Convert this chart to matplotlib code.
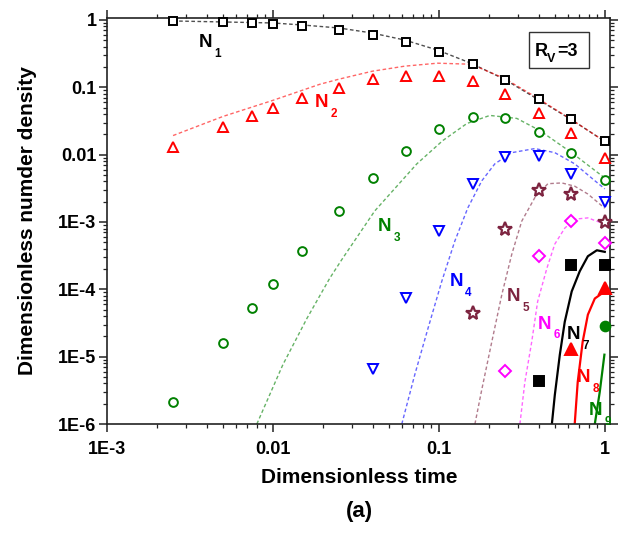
import matplotlib
matplotlib.use("Agg")
import matplotlib.pyplot as plt
from matplotlib.ticker import FixedLocator, FixedFormatter, LogLocator, NullFormatter
from matplotlib.patches import Rectangle

plt.rcParams['font.family'] = ['Liberation Sans', 'DejaVu Sans']
plt.rcParams['font.weight'] = 'bold'

# ---- simulation points (open / filled symbols) ----
t_sim = [0.0025, 0.005, 0.0075, 0.01, 0.015, 0.025, 0.04, 0.063, 0.1, 0.16, 0.25, 0.4, 0.63, 1.0]
n1_sim = [0.966, 0.93, 0.90, 0.87, 0.81, 0.71, 0.60, 0.47, 0.33, 0.22, 0.13, 0.068, 0.034, 0.0157]
n2_sim = [0.0132, 0.0253, 0.037, 0.0486, 0.0686, 0.097, 0.132, 0.146, 0.146, 0.123, 0.0787, 0.042, 0.0206, 0.009]
n3_sim = [2.1e-6, 1.62e-5, 5.2e-5, 1.19e-4, 3.7e-4, 1.46e-3, 4.5e-3, 0.0115, 0.0244, 0.0357, 0.0345, 0.022, 0.0104, 0.0042]

t4_sim = [0.04, 0.063, 0.1, 0.16, 0.25, 0.4, 0.63, 1.0]
n4_sim = [6.6e-6, 7.4e-5, 7.3e-4, 3.7e-3, 9.3e-3, 9.7e-3, 5.2e-3, 2.0e-3]
t5_sim = [0.16, 0.25, 0.4, 0.63, 1.0]
n5_sim = [4.4e-5, 7.9e-4, 3.0e-3, 2.6e-3, 1.0e-3]
t6_sim = [0.25, 0.4, 0.63, 1.0]
n6_sim = [6.2e-6, 3.1e-4, 1.03e-3, 4.9e-4]
t7_sim = [0.4, 0.63, 1.0]
n7_sim = [4.3e-6, 2.3e-4, 2.3e-4]
t8_sim = [0.63, 1.0]
n8_sim = [1.32e-5, 1.03e-4]
t9_sim = [1.0]
n9_sim = [2.9e-5]

# ---- model curves ----
t1_mod = [0.0025, 0.01, 0.015, 0.025, 0.0396, 0.0623, 0.0982, 0.156, 0.248, 0.388, 0.625, 1.0]
n1_mod = [0.966, 0.902, 0.842, 0.76, 0.64, 0.503, 0.357, 0.228, 0.132, 0.068, 0.0335, 0.0157]
t2_mod = [0.0025, 0.005, 0.01, 0.0192, 0.025, 0.0396, 0.0623, 0.0982, 0.156, 0.248, 0.388, 0.625, 1.0]
n2_mod = [0.0192, 0.0369, 0.064, 0.111, 0.132, 0.173, 0.206, 0.228, 0.22, 0.136, 0.0706, 0.0335, 0.0157]
t3_mod = [0.0080, 0.01148, 0.01603, 0.022, 0.0261, 0.0411, 0.0737, 0.1057, 0.1476, 0.203, 0.295, 0.406, 0.641, 1.0]
n3_mod = [1.0e-6, 7.6e-6, 3.7e-5, 1.46e-4, 2.8e-4, 1.46e-3, 7.3e-3, 0.0162, 0.029, 0.0382, 0.0345, 0.0228, 0.0104, 0.0045]
t4_mod = [0.0598, 0.0716, 0.0859, 0.1042, 0.1248, 0.1495, 0.1817, 0.2175, 0.275, 0.379, 0.5, 0.659, 0.871, 1.0]
n4_mod = [1.0e-6, 5.4e-6, 2.6e-5, 1.32e-4, 5.2e-4, 1.62e-3, 4.1e-3, 7.3e-3, 0.0107, 0.0123, 0.0107, 7.3e-3, 4.1e-3, 3.1e-3]
t5_mod = [0.165, 0.1817, 0.2086, 0.2398, 0.275, 0.316, 0.379, 0.454, 0.551, 0.659, 0.791, 1.0]
n5_mod = [1.0e-6, 3.3e-6, 1.67e-5, 8.4e-5, 3.3e-4, 1.03e-3, 2.3e-3, 3.7e-3, 3.8e-3, 3.4e-3, 2.6e-3, 1.6e-3]
t6_mod = [0.308, 0.330, 0.363, 0.394, 0.448, 0.5, 0.574, 0.659, 0.791, 1.0]
n6_mod = [1.0e-6, 4.2e-6, 1.67e-5, 6.6e-5, 2.06e-4, 4.7e-4, 8.1e-4, 1.1e-3, 1.15e-3, 9.3e-4]
t7_mod = [0.48, 0.5, 0.536, 0.574, 0.632, 0.707, 0.791, 0.896, 1.0]
n7_mod = [1.0e-6, 2.7e-6, 1.07e-5, 3.3e-5, 9.3e-5, 1.86e-4, 3.1e-4, 3.8e-4, 3.6e-4]
t8_mod = [0.659, 0.687, 0.736, 0.791, 0.871, 1.0]
n8_mod = [1.0e-6, 4.2e-6, 1.67e-5, 4.2e-5, 7.3e-5, 9.3e-5]
t9_mod = [0.871, 0.933, 0.995]
n9_mod = [1.0e-6, 3.0e-6, 1.07e-5]

x_ticks = [1e-3, 1e-2, 1e-1, 1.0]
x_ticklabels = ['1E-3', '0.01', '0.1', '1']
y_ticks = [1e-6, 1e-5, 1e-4, 1e-3, 1e-2, 1e-1, 1.0]
y_ticklabels = ['1E-6', '1E-5', '1E-4', '1E-3', '0.01', '0.1', '1']

C_BLACK = '#000000'
C_RED = '#ff0000'
C_GREEN = '#008000'
C_BLUE = '#0000ff'
C_WINE = '#7d2440'
C_MAGENTA = '#ff00ff'

fig = plt.figure(figsize=(6.28, 5.33), dpi=100)
ax = fig.add_axes([0.1704, 0.2045, 0.8009, 0.7623])
ax.set_xscale('log')
ax.set_yscale('log')
ax.set_xlim(1e-3, 1.075)
ax.set_ylim(1e-6, 1.08)

dash = (0, (2.6, 1.8))
ax.plot(t1_mod, n1_mod, color='#303030', lw=1.0, ls=dash, alpha=0.85, zorder=2)
ax.plot(t2_mod, n2_mod, color=C_RED, lw=1.0, ls=dash, alpha=0.6, zorder=2)
ax.plot(t3_mod, n3_mod, color=C_GREEN, lw=1.0, ls=dash, alpha=0.6, zorder=2)
ax.plot(t4_mod, n4_mod, color=C_BLUE, lw=1.0, ls=dash, alpha=0.6, zorder=2)
ax.plot(t5_mod, n5_mod, color=C_WINE, lw=1.0, ls=dash, alpha=0.6, zorder=2)
ax.plot(t6_mod, n6_mod, color=C_MAGENTA, lw=1.0, ls=dash, alpha=0.6, zorder=2)
ax.plot(t7_mod, n7_mod, color=C_BLACK, lw=1.6, zorder=2)
ax.plot(t8_mod, n8_mod, color=C_RED, lw=1.6, zorder=2)
ax.plot(t9_mod, n9_mod, color=C_GREEN, lw=1.6, zorder=2)

mk = dict(ls='none', mew=1.4, zorder=3, clip_on=False)
ax.plot(t_sim, n1_sim, marker='s', ms=6, mfc='white', mec=C_BLACK, **mk)
ax.plot(t_sim, n2_sim, marker='^', ms=7.5, mfc='white', mec=C_RED, **mk)
ax.plot(t_sim, n3_sim, marker='o', ms=6.3, mfc='white', mec=C_GREEN, **mk)
ax.plot(t4_sim, n4_sim, marker='v', ms=7.5, mfc='white', mec=C_BLUE, **mk)
ax.plot(t5_sim, n5_sim, marker='*', ms=10, mfc='white', mec=C_WINE, mew=1.6,
        ls='none', zorder=3, clip_on=False)
ax.plot(t6_sim, n6_sim, marker='D', ms=6, mfc='white', mec=C_MAGENTA, **mk)
ax.plot(t7_sim, n7_sim, marker='s', ms=6.5, mfc=C_BLACK, mec=C_BLACK, **mk)
ax.plot(t8_sim, n8_sim, marker='^', ms=8, mfc=C_RED, mec=C_RED, **mk)
ax.plot(t9_sim, n9_sim, marker='o', ms=7, mfc=C_GREEN, mec=C_GREEN, **mk)

# species labels: "N" with a lowered subscript index
def species_label(x, y, idx, color):
    ax.text(x, y, 'N', color=color, fontsize=13.5, fontweight='bold',
            ha='left', va='baseline', zorder=4)
    ax.annotate(idx, xy=(x, y), xytext=(11.2, -7.0), textcoords='offset points',
                color=color, fontsize=8.5, fontweight='bold',
                ha='left', va='baseline', zorder=4)

species_label(0.00358, 0.395, '1', C_BLACK)
species_label(0.0179, 0.0503, '2', C_RED)
species_label(0.043, 7.3e-4, '3', C_GREEN)
species_label(0.1164, 1.11e-4, '4', C_BLUE)
species_label(0.257, 6.6e-5, '5', C_WINE)
species_label(0.394, 2.6e-5, '6', C_MAGENTA)
species_label(0.590, 1.8e-5, '7', C_BLACK)
species_label(0.678, 4.2e-6, '8', C_RED)
species_label(0.802, 1.36e-6, '9', C_GREEN)

# parameter box
ax.add_patch(Rectangle((0.8390, 0.8754), 0.1193, 0.0886, transform=ax.transAxes,
                       fill=False, ec='#333333', lw=1.0, zorder=4))
ax.text(0.8509, 0.9064, 'R', transform=ax.transAxes, fontsize=13, fontweight='bold',
        ha='left', va='baseline')
ax.text(0.8748, 0.8900, 'V', transform=ax.transAxes, fontsize=9, fontweight='bold',
        ha='left', va='baseline')
ax.text(0.8956, 0.9064, '=3', transform=ax.transAxes, fontsize=13, fontweight='bold',
        ha='left', va='baseline')

# axes styling
ax.xaxis.set_major_locator(FixedLocator(x_ticks))
ax.xaxis.set_major_formatter(FixedFormatter(x_ticklabels))
ax.yaxis.set_major_locator(FixedLocator(y_ticks))
ax.yaxis.set_major_formatter(FixedFormatter(y_ticklabels))
ax.xaxis.set_minor_locator(LogLocator(base=10, subs=range(2, 10), numticks=20))
ax.yaxis.set_minor_locator(LogLocator(base=10, subs=range(2, 10), numticks=20))
ax.xaxis.set_minor_formatter(NullFormatter())
ax.yaxis.set_minor_formatter(NullFormatter())

for s in ax.spines.values():
    s.set_linewidth(1.2)
    s.set_color('#222222')

ax.tick_params(which='both', direction='out', top=True, right=True,
               labeltop=False, labelright=False, color='#222222')
ax.tick_params(which='major', length=6, width=1.1, labelsize=13)
ax.tick_params(which='minor', length=3.2, width=0.9)
ax.tick_params(axis='x', which='major', pad=6)
ax.tick_params(axis='y', which='major', pad=1.5)
for lab in ax.get_xticklabels() + ax.get_yticklabels():
    lab.set_fontweight('bold')

ax.set_xlabel('Dimensionless time', fontsize=15, fontweight='bold')
ax.set_ylabel('Dimensionless numder density', fontsize=15, fontweight='bold')
ax.xaxis.set_label_coords(0.502, -0.108)
ax.yaxis.set_label_coords(-0.139, 0.5)

fig.text(0.572, 0.0394, '(a)', fontsize=16, fontweight='bold', ha='center', va='center')

fig.savefig('out.png', dpi=100)
